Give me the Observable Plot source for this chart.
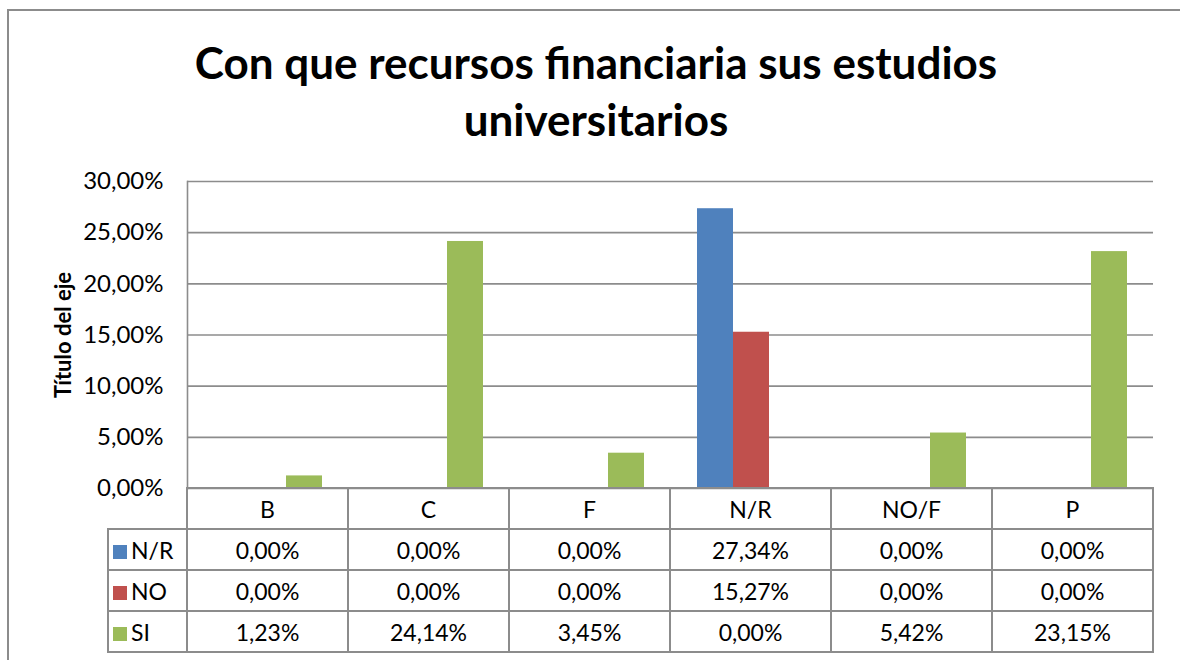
<!DOCTYPE html>
<html>
<head>
<meta charset="utf-8">
<script src="https://cdn.jsdelivr.net/npm/d3@7"></script>
<script src="https://cdn.jsdelivr.net/npm/@observablehq/plot@0.6"></script>
<style>
  html, body { margin: 0; padding: 0; background: #fff; }
  #wrap { position: relative; width: 1180px; height: 660px; overflow: hidden; font-family: Lato, "Open Sans", sans-serif; color: #000; }
  .frameTop { position: absolute; left: 8px; top: 9px; width: 1180px; height: 0; border-top: 2px solid #8c8c8c; }
  .frameLeft { position: absolute; left: 7px; top: 9px; width: 0; height: 660px; border-left: 2px solid #8c8c8c; }
  #title { position: absolute; left: 0; top: 34px; width: 1192px; text-align: center; font-weight: bold; font-size: 44px; line-height: 57px; }
  #ylabel { position: absolute; left: 62px; top: 335px; transform: translate(-50%, -50%) rotate(-90deg); font-weight: bold; font-size: 22px; white-space: nowrap; }
  #chart { position: absolute; left: 0; top: 160px; }
  #tbl { position: absolute; left: 107px; top: 487px; border-collapse: collapse; table-layout: fixed; font-size: 23px; }
  #tbl td { border: 2px solid #8c8c8c; text-align: center; padding: 0; }
  #tbl td.empty { border-top: none; border-left: none; }
  #tbl td.leg { text-align: left; padding-left: 4px; white-space: nowrap; }
  .sw { display: inline-block; width: 14px; height: 14px; margin-right: 4px; vertical-align: 0px; }
</style>
</head>
<body>
<div id="wrap">
  <div class="frameTop"></div>
  <div class="frameLeft"></div>
  <div id="title"></div>
  <div id="ylabel"></div>
  <div id="chart"></div>
  <table id="tbl"></table>
</div>
<script>
const titleLines = ["Con que recursos financiaria sus estudios", "universitarios"];
const yTitle = "Título del eje";
const categories = ["B", "C", "F", "N/R", "NO/F", "P"];
const series = ["N/R", "NO", "SI"];
const valuesNR = [0, 0, 0, 27.34, 0, 0];
const valuesNO = [0, 0, 0, 15.27, 0, 0];
const valuesSI = [1.23, 24.14, 3.45, 0, 5.42, 23.15];
const colors = ["#4F81BD", "#C0504D", "#9BBB59"];
const yTicks = [0, 5, 10, 15, 20, 25, 30];

const seriesValues = [valuesNR, valuesNO, valuesSI];
const data = [];
categories.forEach((c, i) => {
  series.forEach((s, j) => data.push({category: c, series: s, value: seriesValues[j][i] / 100}));
});

const fmt = d3.formatLocale({decimal: ",", thousands: ".", grouping: [3], currency: ["", "€"]}).format(".2%");

document.getElementById("title").innerHTML = titleLines.join("<br>");
document.getElementById("ylabel").textContent = yTitle;

const ticks = yTicks.map(d => d / 100);
const chart = Plot.plot({
  width: 1180,
  height: 340,
  marginLeft: 187,
  marginRight: 27,
  marginTop: 21,
  marginBottom: 12,
  style: {fontFamily: "Lato, 'Open Sans', sans-serif", fontSize: "24px", color: "#000", background: "transparent", overflow: "visible"},
  fx: {domain: categories, padding: 0, axis: null},
  x: {domain: series, paddingInner: 0, paddingOuter: 0.736, axis: null},
  y: {domain: [0, 0.3], axis: null},
  color: {domain: series, range: colors},
  marks: [
    Plot.gridY(ticks, {stroke: "#8c8c8c", strokeOpacity: 1, strokeWidth: 1.6}),
    Plot.axisY(ticks, {tickSize: 0, tickPadding: 24, tickFormat: fmt, label: null, fontSize: 24, fill: "#000"}),
    Plot.barY(data, {fx: "category", x: "series", y: "value", fill: "series", inset: 0}),
    Plot.frame({anchor: "left", facetAnchor: "left", stroke: "#8c8c8c", strokeWidth: 1.6})
  ]
});
document.getElementById("chart").appendChild(chart);

// data table
const tbl = document.getElementById("tbl");
const colgroup = document.createElement("colgroup");
[79, ...categories.map(() => 161)].forEach(w => {
  const col = document.createElement("col");
  col.style.width = w + "px";
  colgroup.appendChild(col);
});
tbl.appendChild(colgroup);
const head = document.createElement("tr");
head.style.height = "41px";
const e = document.createElement("td");
e.className = "empty";
head.appendChild(e);
categories.forEach(c => {
  const td = document.createElement("td");
  td.textContent = c;
  head.appendChild(td);
});
tbl.appendChild(head);
series.forEach((s, j) => {
  const tr = document.createElement("tr");
  tr.style.height = "41px";
  const lg = document.createElement("td");
  lg.className = "leg";
  lg.innerHTML = `<span class="sw" style="background:${colors[j]}"></span>${s}`;
  tr.appendChild(lg);
  seriesValues[j].forEach(v => {
    const td = document.createElement("td");
    td.textContent = fmt(v / 100);
    tr.appendChild(td);
  });
  tbl.appendChild(tr);
});
</script>
</body>
</html>
